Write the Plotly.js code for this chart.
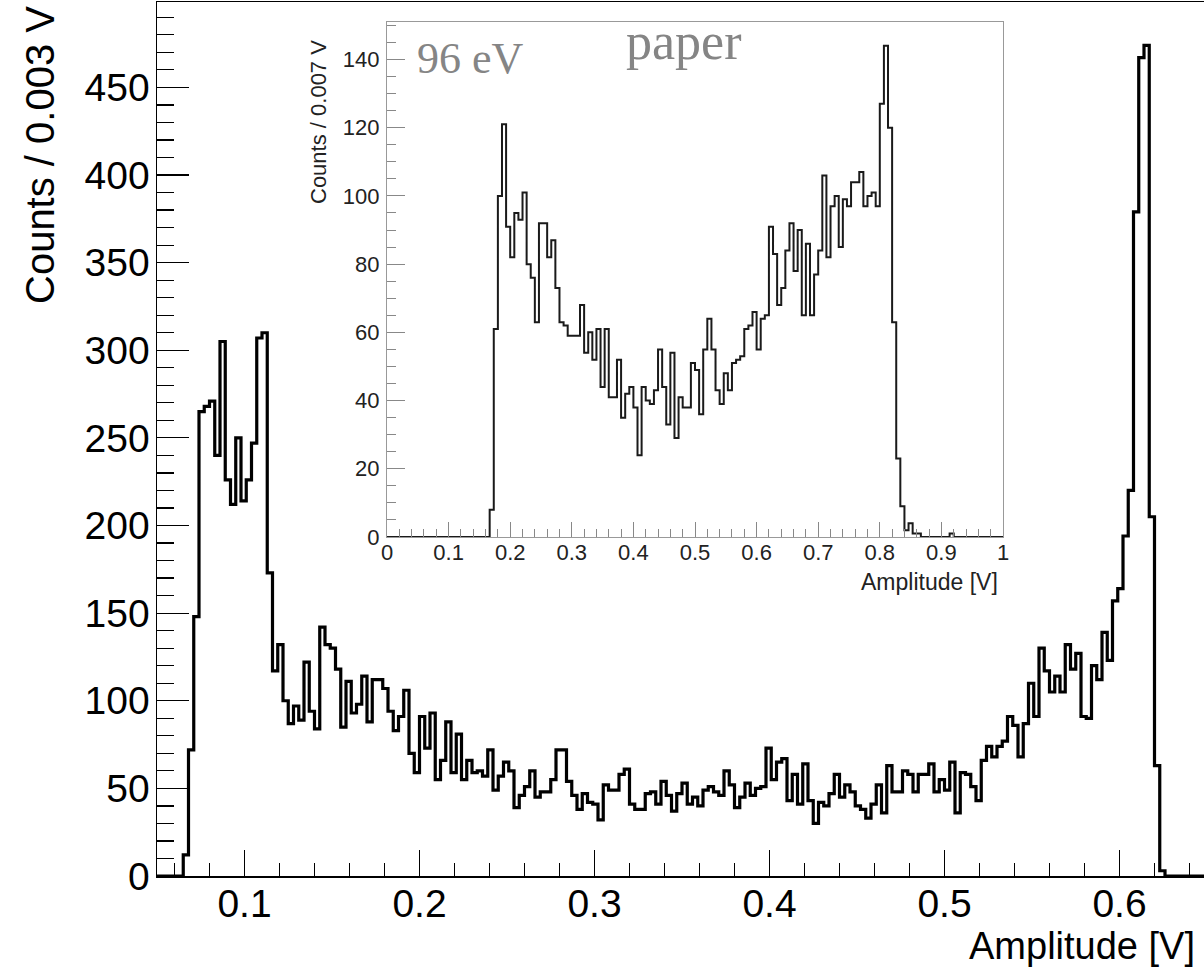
<!DOCTYPE html>
<html>
<head>
<meta charset="utf-8">
<script src="https://cdn.plot.ly/plotly-3.0.1.min.js"></script>
<style>
  html, body { margin: 0; padding: 0; background: #ffffff; }
  #chart { width: 1204px; height: 969px; }
</style>
</head>
<body>
<div id="chart"></div>
<script>
// ---------------- DATA ----------------
// Main histogram: 200 bins of 0.003 V from 0.05 V to 0.65 V
const mainLow = 0.05;
const mainBinWidth = 0.003;
const mainCounts = [
  0, 0, 0, 0, 0, 12, 72, 148, 265, 268,
  271, 240, 305, 226, 212, 250, 214, 226, 247, 307,
  310, 173, 117, 132, 100, 87, 97, 89, 122, 94,
  84, 142, 132, 130, 118, 85, 111, 93, 98, 114,
  88, 112, 112, 107, 94, 83, 91, 106, 70, 59,
  91, 73, 93, 55, 66, 88, 59, 81, 55, 66,
  59, 60, 57, 72, 49, 57, 65, 60, 39, 46,
  51, 60, 45, 48, 48, 55, 72, 72, 54, 46,
  38, 47, 42, 41, 32, 52, 49, 49, 58, 61,
  41, 38, 38, 47, 48, 41, 54, 46, 37, 47,
  53, 41, 45, 40, 49, 51, 48, 46, 60, 52,
  39, 45, 53, 46, 50, 51, 73, 55, 65, 67,
  43, 58, 41, 64, 43, 30, 42, 40, 47, 58,
  45, 52, 48, 40, 38, 33, 41, 52, 36, 63,
  48, 48, 60, 58, 48, 58, 58, 64, 48, 55,
  49, 65, 36, 59, 58, 51, 43, 66, 74, 68,
  74, 77, 91, 86, 68, 87, 110, 91, 130, 117,
  105, 114, 105, 132, 118, 127, 91, 90, 120, 112,
  139, 123, 157, 164, 194, 220, 379, 467, 474, 205,
  63, 3, 0, 0, 0, 0, 0, 0, 0, 0
];

// Inset histogram: 150 bins from 0 V to 1 V ("0.007 V" per bin)
const insetLow = 0;
const insetHigh = 1;
const insetCounts = [
  0, 0, 0, 0, 0, 0, 0, 0, 0, 0,
  0, 0, 0, 0, 0, 0, 0, 0, 0, 0,
  0, 0, 0, 0, 0, 8, 61, 100, 121, 91,
  82, 95, 93, 101, 80, 76, 63, 92, 92, 82,
  87, 73, 63, 62, 59, 59, 59, 68, 54, 60,
  52, 61, 44, 61, 41, 41, 52, 35, 42, 44,
  38, 24, 44, 40, 39, 43, 55, 44, 33, 54,
  29, 41, 38, 38, 51, 49, 36, 55, 64, 55,
  43, 39, 48, 43, 51, 52, 53, 61, 62, 66,
  55, 64, 65, 91, 83, 68, 73, 84, 92, 78,
  90, 65, 86, 65, 77, 84, 106, 82, 97, 100,
  85, 99, 97, 104, 104, 107, 97, 100, 101, 97,
  127, 144, 120, 63, 23, 9, 2, 4, 1, 1,
  0, 0, 0, 0, 0, 0, 0, 1, 0, 0,
  0, 0, 0, 0, 0, 0, 0, 0, 0, 0
];

// Tick values and labels
const mainXTickVals = [0.1, 0.2, 0.3, 0.4, 0.5, 0.6];
const mainXTickText = ['0.1', '0.2', '0.3', '0.4', '0.5', '0.6'];
const mainYTickVals = [0, 50, 100, 150, 200, 250, 300, 350, 400, 450];
const mainYTickText = ['0', '50', '100', '150', '200', '250', '300', '350', '400', '450'];
const insetXTickVals = [0, 0.1, 0.2, 0.3, 0.4, 0.5, 0.6, 0.7, 0.8, 0.9, 1];
const insetXTickText = ['0', '0.1', '0.2', '0.3', '0.4', '0.5', '0.6', '0.7', '0.8', '0.9', '1'];
const insetYTickVals = [0, 20, 40, 60, 80, 100, 120, 140];
const insetYTickText = ['0', '20', '40', '60', '80', '100', '120', '140'];

// Texts
const mainXTitle = 'Amplitude [V]';
const mainYTitle = 'Counts / 0.003 V';
const insetXTitle = 'Amplitude [V]';
const insetYTitle = 'Counts / 0.007 V';
const labelEnergy = '96 eV';
const labelSource = 'paper';

// ---------------- BUILD STEP OUTLINES ----------------
function stepOutline(low, width, counts) {
  const xs = [], ys = [];
  for (let i = 0; i < counts.length; i++) {
    xs.push(low + i * width);
    ys.push(counts[i]);
  }
  xs.push(low + counts.length * width);
  ys.push(counts[counts.length - 1]);
  return { xs, ys };
}

const mainStep = stepOutline(mainLow, mainBinWidth, mainCounts);
const insetStep = stepOutline(insetLow, (insetHigh - insetLow) / insetCounts.length, insetCounts);

const traces = [
  {
    type: 'scatter', mode: 'lines',
    x: mainStep.xs, y: mainStep.ys,
    line: { shape: 'hv', color: '#000000', width: 3.2 },
    xaxis: 'x', yaxis: 'y', hoverinfo: 'skip'
  },
  {
    type: 'scatter', mode: 'lines',
    x: insetStep.xs, y: insetStep.ys,
    line: { shape: 'hv', color: '#1a1a1a', width: 2 },
    xaxis: 'x2', yaxis: 'y2', hoverinfo: 'skip'
  }
];

const FONT = 'Liberation Sans, Arial, Helvetica, sans-serif';
const SERIF = 'Liberation Serif, DejaVu Serif, serif';

// plot area in pixels: x 157..1204, y 2..876
const L = 157, R = 1204, T = 2, B = 876;
const px = (x) => (x - L) / (R - L);
const py = (y) => (B - y) / (B - T);

const layout = {
  width: 1204, height: 969,
  margin: { l: L, r: 1204 - R, t: T, b: 969 - B, pad: 0 },
  paper_bgcolor: '#ffffff', plot_bgcolor: '#ffffff',
  showlegend: false,
  font: { family: FONT, color: '#000000' },
  xaxis: {
    domain: [0, 1], anchor: 'y',
    range: [mainLow, mainLow + (R - L) / 1750],
    tickmode: 'array', tickvals: mainXTickVals, ticktext: mainXTickText,
    ticks: 'inside', ticklen: 26, tickwidth: 1.2, tickcolor: '#000',
    minor: { tickmode: 'linear', tick0: 0, dtick: 0.02, ticks: 'inside', ticklen: 13, tickwidth: 1.2, tickcolor: '#000' },
    showline: true, linecolor: '#000', linewidth: 1.5, mirror: true,
    showgrid: false, zeroline: false,
    tickfont: { size: 39, family: FONT, color: '#000' },
    ticklabelstandoff: -7
  },
  yaxis: {
    domain: [0, 1], anchor: 'x',
    range: [0, (B - T) / 1.7525],
    tickmode: 'array', tickvals: mainYTickVals, ticktext: mainYTickText,
    ticks: 'inside', ticklen: 32, tickwidth: 1.2, tickcolor: '#000',
    minor: { tickmode: 'linear', tick0: 0, dtick: 10, ticks: 'inside', ticklen: 17, tickwidth: 1.2, tickcolor: '#000' },
    showline: true, linecolor: '#000', linewidth: 1.5, mirror: false,
    showgrid: false, zeroline: false,
    tickfont: { size: 39, family: FONT, color: '#000' },
    ticklabelstandoff: -2
  },
  xaxis2: {
    domain: [px(387), px(1003)], anchor: 'y2',
    range: [0, 1],
    tickmode: 'array', tickvals: insetXTickVals, ticktext: insetXTickText,
    ticks: 'inside', ticklen: 15, tickwidth: 1, tickcolor: '#888',
    minor: { tickmode: 'linear', tick0: 0, dtick: 0.02, ticks: 'inside', ticklen: 8, tickwidth: 1, tickcolor: '#888' },
    showline: true, linecolor: '#999', linewidth: 1.2, mirror: true,
    showgrid: false, zeroline: false,
    tickfont: { size: 22, family: FONT, color: '#222' },
    ticklabelstandoff: -5
  },
  yaxis2: {
    domain: [py(537), py(22)], anchor: 'x2',
    range: [0, 151],
    tickmode: 'array', tickvals: insetYTickVals, ticktext: insetYTickText,
    ticks: 'inside', ticklen: 18, tickwidth: 1, tickcolor: '#888',
    minor: { tickmode: 'linear', tick0: 0, dtick: 5, ticks: 'inside', ticklen: 9, tickwidth: 1, tickcolor: '#888' },
    showline: true, linecolor: '#999', linewidth: 1.2, mirror: true,
    showgrid: false, zeroline: false,
    tickfont: { size: 22, family: FONT, color: '#222' },
    ticklabelstandoff: 2
  },
  annotations: [
    { text: mainYTitle, xref: 'paper', yref: 'paper', x: px(40), y: py(5), xanchor: 'center', yanchor: 'top',
      textangle: -90, showarrow: false, borderpad: 0, font: { size: 40, family: FONT, color: '#000' } },
    { text: mainXTitle, xref: 'paper', yref: 'paper', x: px(1196), y: py(946), xanchor: 'right', yanchor: 'middle',
      showarrow: false, borderpad: 0, font: { size: 38, family: FONT, color: '#000' } },
    { text: insetYTitle, xref: 'paper', yref: 'paper', x: px(318), y: py(39), xanchor: 'center', yanchor: 'top',
      textangle: -90, showarrow: false, borderpad: 0, font: { size: 22, family: FONT, color: '#222' } },
    { text: insetXTitle, xref: 'paper', yref: 'paper', x: px(999), y: py(582), xanchor: 'right', yanchor: 'middle',
      showarrow: false, borderpad: 0, font: { size: 23, family: FONT, color: '#222' } },
    { text: labelEnergy, xref: 'paper', yref: 'paper', x: px(416), y: py(58), xanchor: 'left', yanchor: 'middle',
      showarrow: false, borderpad: 0, font: { size: 44, family: SERIF, color: '#858585' } },
    { text: labelSource, xref: 'paper', yref: 'paper', x: px(625), y: py(41), xanchor: 'left', yanchor: 'middle',
      showarrow: false, borderpad: 0, font: { size: 52, family: SERIF, color: '#858585' } }
  ]
};

Plotly.newPlot('chart', traces, layout, { staticPlot: true, displayModeBar: false });
</script>
</body>
</html>
